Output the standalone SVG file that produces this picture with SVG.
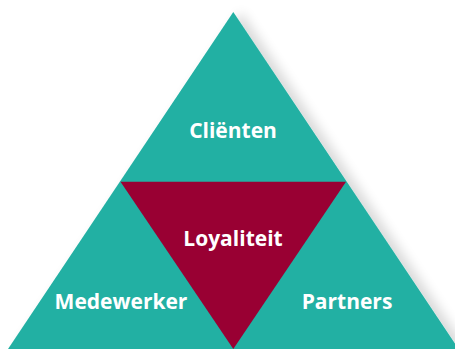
<svg xmlns="http://www.w3.org/2000/svg" width="455" height="349" viewBox="0 0 455 349">
<defs>
<filter id="sh" x="-10%" y="-10%" width="130%" height="130%">
<feGaussianBlur in="SourceAlpha" stdDeviation="6"/>
<feOffset dx="8" dy="0"/>
<feComponentTransfer><feFuncA type="linear" slope="0.15"/></feComponentTransfer>
<feMerge><feMergeNode/><feMergeNode in="SourceGraphic"/></feMerge>
</filter>
</defs>
<style>
.t{fill:#22b0a3}
.r{fill:#990033}
.l{font-family:"Open Sans",sans-serif;font-weight:bold;font-size:21px;fill:#fff;text-anchor:middle}
</style>
<rect width="455" height="349" fill="#fff"/>
<g id="outer">
<polygon class="t" points="233.3,12 8,349 458.6,349" filter="url(#sh)"/>
</g>
<g id="clienten">
<text class="l" x="233" y="138">Cliënten</text>
</g>
<g id="loyaliteit">
<polygon class="r" points="120.5,181.7 346,181.7 233.3,349"/>
<text class="l" x="233" y="246">Loyaliteit</text>
</g>
<g id="medewerker">
<text class="l" x="121" y="309">Medewerker</text>
</g>
<g id="partners">
<text class="l" x="347" y="309">Partners</text>
</g>
<g id="connectors"/>
</svg>
